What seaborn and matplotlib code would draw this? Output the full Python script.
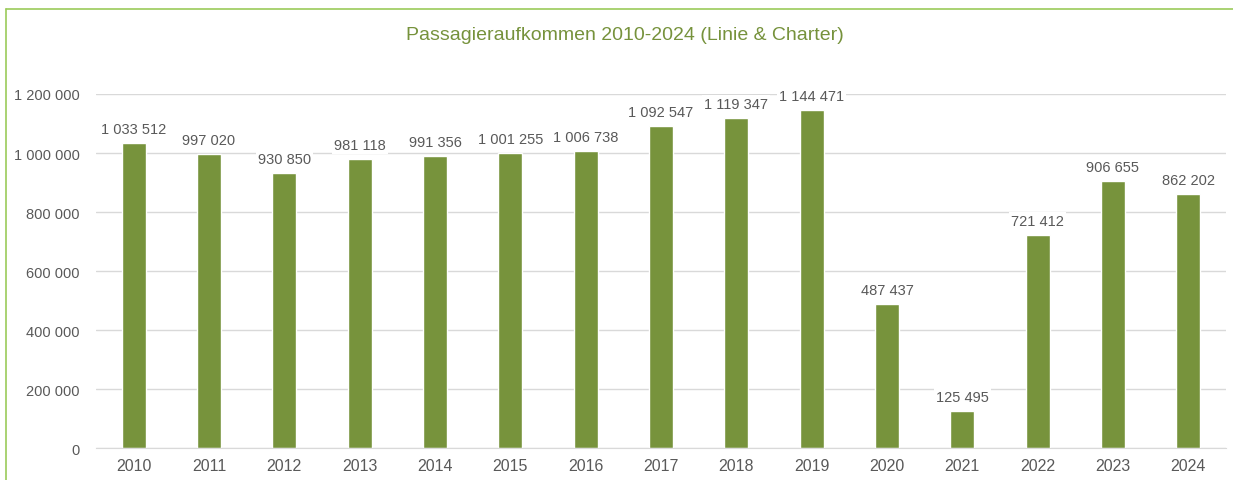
import matplotlib
matplotlib.use("Agg")
import matplotlib.pyplot as plt
from matplotlib.lines import Line2D
import seaborn as sns
import pandas as pd

years = ["2010", "2011", "2012", "2013", "2014", "2015", "2016", "2017",
         "2018", "2019", "2020", "2021", "2022", "2023", "2024"]
passengers = [1033512, 997020, 930850, 981118, 991356, 1001255, 1006738, 1092547,
              1119347, 1144471, 487437, 125495, 721412, 906655, 862202]
y_ticks = [0, 200000, 400000, 600000, 800000, 1000000, 1200000]

df = pd.DataFrame({"Jahr": years, "Passagiere": passengers})

def fmt(v):
    return f"{v:,}".replace(",", " ")

sns.set_style("white")
plt.rcParams["font.family"] = ["Liberation Sans", "DejaVu Sans"]

bar_color = "#77933C"
text_color = "#595959"
grid_color = "#D9D9D9"

fig = plt.figure(figsize=(12.33, 4.81), dpi=100)
ax = fig.add_axes([0.0779, 0.0665, 0.9164, 0.736])

sns.barplot(data=df, x="Jahr", y="Passagiere", color=bar_color, width=0.32,
            saturation=1, ax=ax, zorder=2)

ax.set_ylim(0, 1200000)
ax.set_xlim(-0.5, len(years) - 0.5)
ax.set_yticks(y_ticks)
ax.set_yticklabels([fmt(t) for t in y_ticks])
ax.yaxis.grid(True, color=grid_color, linewidth=1, zorder=0)
ax.set_axisbelow(True)
for side in ["top", "right", "left"]:
    ax.spines[side].set_visible(False)
ax.spines["bottom"].set_color(grid_color)
ax.tick_params(axis="both", length=0, colors=text_color)
ax.tick_params(axis="x", pad=7, labelsize=11.5)
ax.tick_params(axis="y", pad=12, labelsize=10.5)
ax.set_xlabel("")
ax.set_ylabel("")

ax.bar_label(ax.containers[0], labels=[fmt(v) for v in passengers], padding=5,
             fontsize=10.5, color=text_color, clip_on=False,
             bbox=dict(facecolor="white", edgecolor="none", pad=1.5))

fig.text(0.5065, 0.927, "Passagieraufkommen 2010-2024 (Linie & Charter)",
         ha="center", va="center", fontsize=14, color="#76923C")

# Rahmen (oben und links)
frame = "#9BCB5A"
fig.add_artist(Line2D([6 / 1233, 1], [1 - 10 / 481, 1 - 10 / 481],
                      transform=fig.transFigure, color=frame, linewidth=1.2))
fig.add_artist(Line2D([6 / 1233, 6 / 1233], [0, 1 - 10 / 481],
                      transform=fig.transFigure, color=frame, linewidth=1.2))

fig.savefig("out.png", dpi=100, facecolor="white")
